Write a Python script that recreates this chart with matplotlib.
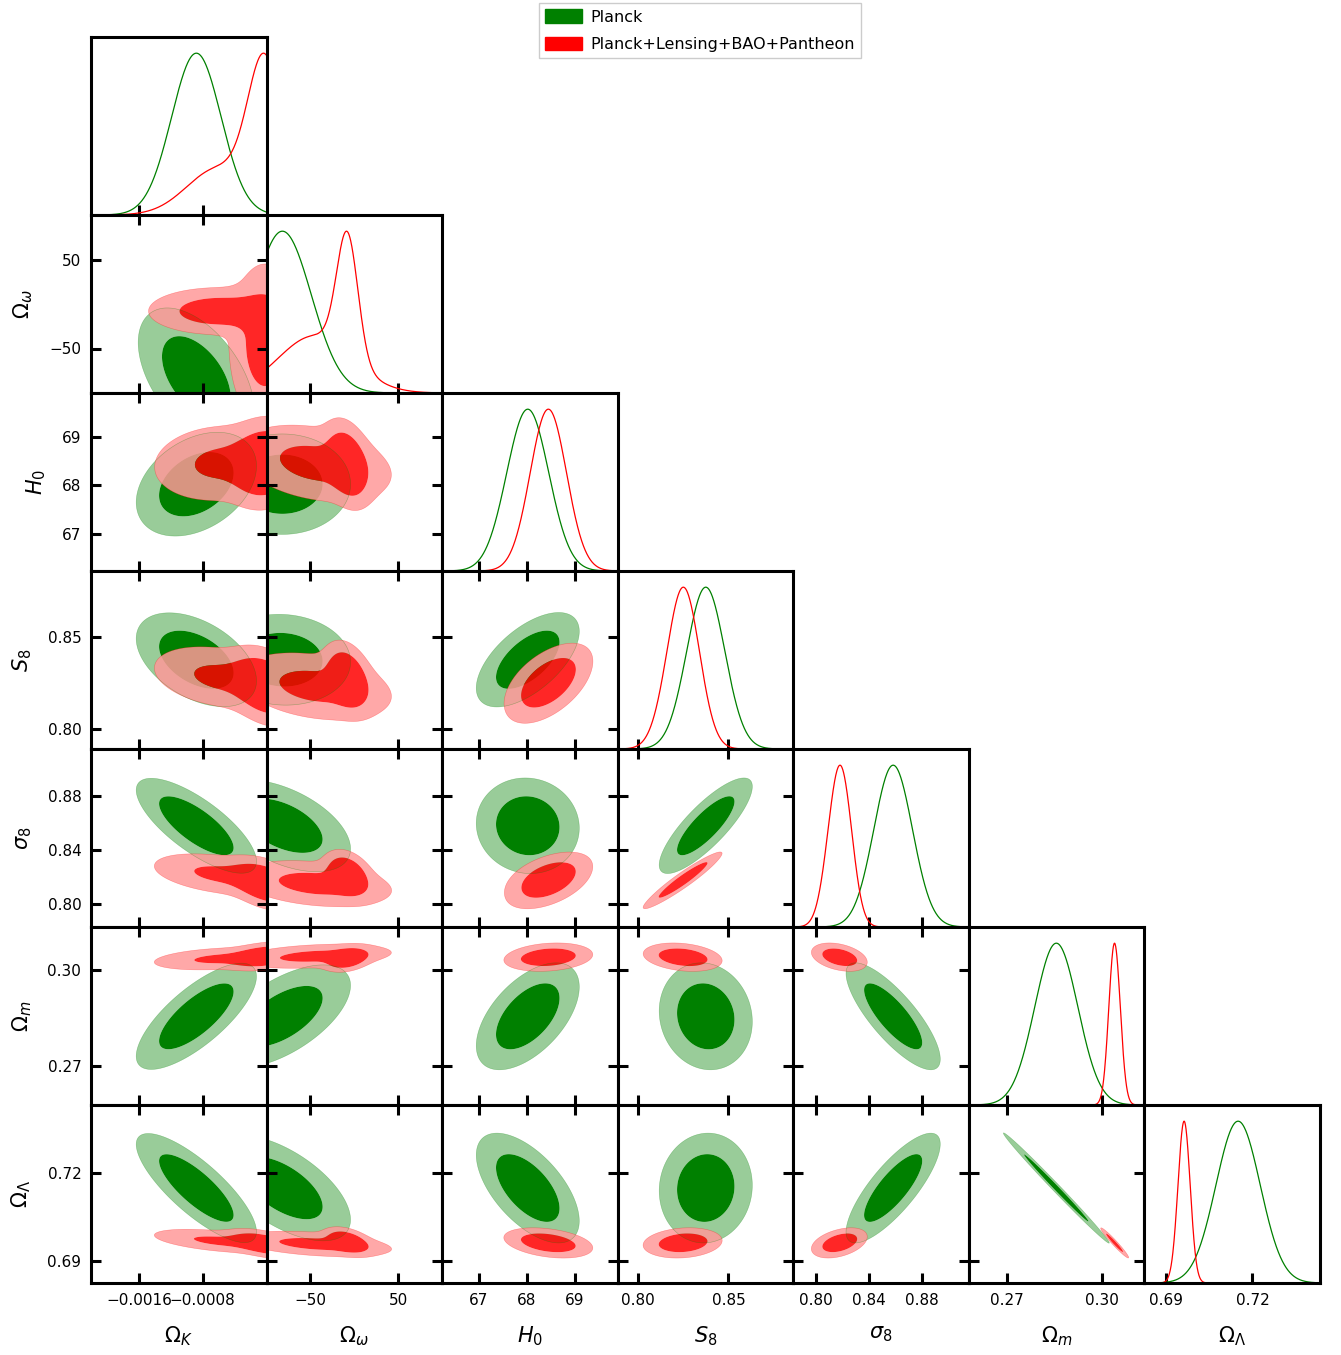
import numpy as np
import matplotlib
matplotlib.use('Agg')
import matplotlib.pyplot as plt
from matplotlib.patches import Patch

# parameters, plot ranges and ticks
labels = [r'$\Omega_K$', r'$\Omega_\omega$', r'$H_0$', r'$S_8$', r'$\sigma_8$', r'$\Omega_m$', r'$\Omega_\Lambda$']
lows = [-0.0022, -100.0, 66.23, 0.7889, 0.7828, 0.2579, 0.6824]
highs = [0.0, 100.0, 69.90, 0.8858, 0.9150, 0.3133, 0.7435]
ticks = [[-0.0016, -0.0008], [-50, 50], [67, 68, 69], [0.80, 0.85],
         [0.80, 0.84, 0.88], [0.27, 0.30], [0.69, 0.72]]
tick_text = [['\u22120.0016', '\u22120.0008'], ['\u221250', '50'], ['67', '68', '69'],
             ['0.80', '0.85'], ['0.80', '0.84', '0.88'], ['0.27', '0.30'], ['0.69', '0.72']]

# Planck: one gaussian component
planck_weights = [1.0]
planck_means = [[-0.00088, -82.0, 68.02, 0.8375, 0.8580, 0.2855, 0.7150]]
planck_sigmas = [[0.00031, 33.0, 0.44, 0.0105, 0.0145, 0.0068, 0.0077]]
planck_corr = [
    [1.0],
    [-0.50, 1.0],
    [0.35, 0.00, 1.0],
    [-0.45, -0.05, 0.60, 1.0],
    [-0.75, -0.50, -0.05, 0.82, 1.0],
    [0.75, 0.60, 0.55, -0.10, -0.80, 1.0],
    [-0.80, -0.60, -0.60, 0.05, 0.80, -0.995, 1.0],
]

# Planck+Lensing+BAO+Pantheon: main part near flat + tail to negative curvature
lens_weights = [0.62, 0.38]
lens_means = [[-0.00002, -45.0, 68.45, 0.823, 0.815, 0.3042, 0.6958],
              [-0.00060, -8.0, 68.45, 0.828, 0.822, 0.3034, 0.6968]]
lens_sigmas = [[0.00021, 42.0, 0.38, 0.0088, 0.0082, 0.0018, 0.0021],
               [0.00040, 12.0, 0.38, 0.0082, 0.0075, 0.0017, 0.0020]]
lens_corr = [
    [1.0],
    [0.00, 1.0],
    [0.10, -0.30, 1.0],
    [-0.30, -0.30, 0.55, 1.0],
    [-0.40, -0.30, 0.50, 0.95, 1.0],
    [0.30, 0.30, 0.20, -0.20, -0.30, 1.0],
    [-0.50, -0.40, -0.35, 0.10, 0.35, -0.97, 1.0],
]

datasets = [
    dict(w=planck_weights, m=planck_means, s=planck_sigmas, c=planck_corr,
         dark='#008000', light='#99cc99', alpha=1.0),
    dict(w=lens_weights, m=lens_means, s=lens_sigmas, c=lens_corr,
         dark='#ff0000', light='#ff9999', alpha=0.85),
]


def density_1d(d, k, x):
    '''Marginal of one parameter for a gaussian mixture'''
    p = np.zeros_like(x)
    for w, m, s in zip(d['w'], d['m'], d['s']):
        p += w / s[k] * np.exp(-0.5 * ((x - m[k]) / s[k]) ** 2)
    return p


def density_2d(d, kx, ky, X, Y):
    '''Marginal of two parameters for a gaussian mixture'''
    r = d['c'][max(kx, ky)][min(kx, ky)]
    p = np.zeros_like(X)
    for w, m, s in zip(d['w'], d['m'], d['s']):
        u = (X - m[kx]) / s[kx]
        v = (Y - m[ky]) / s[ky]
        q = (u * u - 2 * r * u * v + v * v) / (1 - r * r)
        p += w / (s[kx] * s[ky] * np.sqrt(1 - r * r)) * np.exp(-0.5 * q)
    return p


def mass_levels(p, fracs=(0.95, 0.68)):
    '''Density levels enclosing the given fractions of the mass'''
    flat = np.sort(p.ravel())[::-1]
    cum = np.cumsum(flat) / flat.sum()
    return [flat[np.searchsorted(cum, f)] for f in fracs]


n = len(labels)
fig = plt.figure(figsize=(13.41, 13.55), dpi=100)
cw, ch = 175.57, 178.0
ngrid = 300

for row in range(n):
    for col in range(row + 1):
        ax = fig.add_axes([(91 + col * cw) / 1341, 1 - (37 + (row + 1) * ch) / 1355,
                           cw / 1341, ch / 1355])
        for sp in ax.spines.values():
            sp.set_linewidth(2.2)
        ax.set_xlim(lows[col], highs[col])
        ax.set_xticks(ticks[col])
        if row == col:
            # 1D marginals
            x = np.linspace(lows[col], highs[col], 600)
            for d in datasets:
                p = density_1d(d, col, x)
                ax.plot(x, p / p.max(), color=d['dark'], lw=0.9)
            ax.set_ylim(0, 1.1)
            ax.set_yticks([])
            ax.tick_params(direction='in', length=7, width=2.2, top=False, left=False, right=False)
        else:
            # 2D marginals
            ax.set_ylim(lows[row], highs[row])
            ax.set_yticks(ticks[row])
            gx = np.linspace(lows[col], highs[col], ngrid)
            gy = np.linspace(lows[row], highs[row], ngrid)
            X, Y = np.meshgrid(gx, gy)
            dens = []
            for d in datasets:
                p = density_2d(d, col, row, X, Y)
                lv = mass_levels(p)
                ax.contourf(X, Y, p, levels=[lv[0], lv[1], p.max() * 1.01],
                            colors=[d['light'], d['dark']], alpha=d['alpha'], antialiased=True)
                dens.append((d, p, lv))
            for d, p, lv in dens:
                ax.contour(X, Y, p, levels=[lv[0]], colors=[d['dark']], linewidths=0.4, alpha=0.35)
            ax.tick_params(direction='in', length=7, width=2.2, top=True, right=True)
        ax.tick_params(labelsize=11, pad=7)
        if row == n - 1:
            ax.set_xticklabels(tick_text[col])
            ax.set_xlabel(labels[col], fontsize=15, labelpad=12)
        else:
            ax.set_xticklabels([])
        if col == 0 and row > 0:
            ax.set_yticklabels(tick_text[row])
            ax.set_ylabel(labels[row], fontsize=15, labelpad=10)
        elif row != col:
            ax.set_yticklabels([])

handles = [Patch(color='#008000'), Patch(color='#ff0000')]
fig.legend(handles, ['Planck', 'Planck+Lensing+BAO+Pantheon'], loc='upper left',
           bbox_to_anchor=(539 / 1341, 1 - 3 / 1355), fontsize=11.5, fancybox=False,
           edgecolor='#cccccc', framealpha=1, handlelength=2.3, handleheight=0.9,
           handletextpad=0.5, borderpad=0.4, labelspacing=0.75, borderaxespad=0)

fig.savefig('out.png', dpi=100)
